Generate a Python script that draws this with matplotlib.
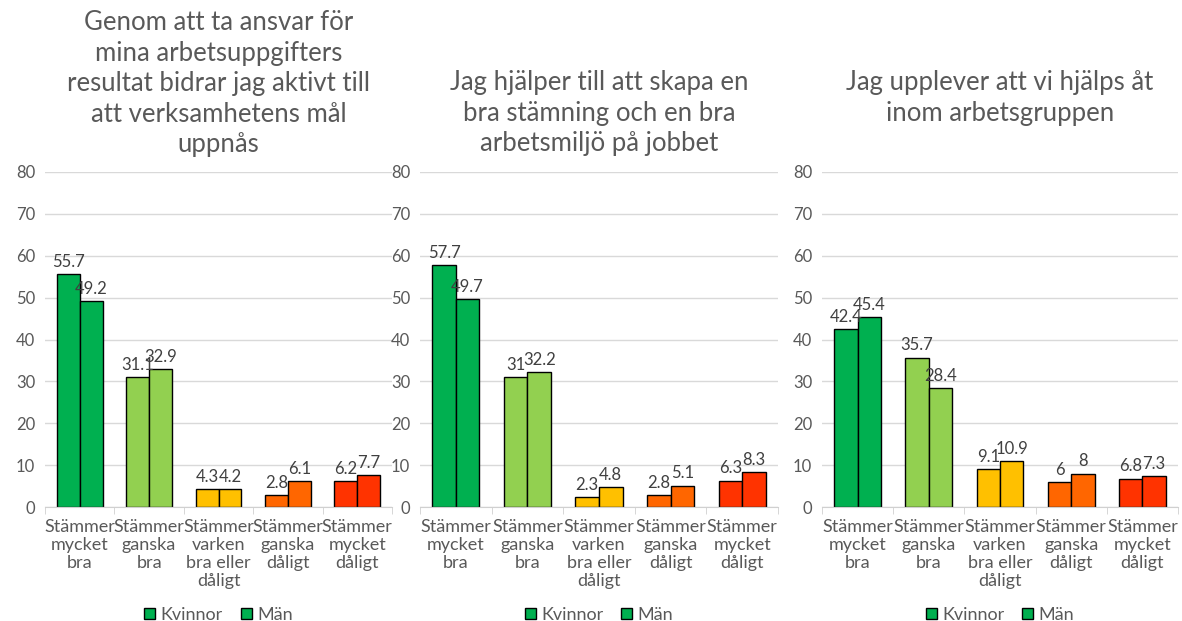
import matplotlib
matplotlib.use("Agg")
import matplotlib.pyplot as plt
from matplotlib.patches import Patch
import numpy as np

plt.rcParams['font.family'] = ['Lato', 'DejaVu Sans']

categories = ["Stämmer\nmycket\nbra", "Stämmer\nganska\nbra", "Stämmer\nvarken\nbra eller\ndåligt",
              "Stämmer\nganska\ndåligt", "Stämmer\nmycket\ndåligt"]
series_names = ["Kvinnor", "Män"]

titles = ["Genom att ta ansvar för\nmina arbetsuppgifters\nresultat bidrar jag aktivt till\natt verksamhetens mål\nuppnås",
          "Jag hjälper till att skapa en\nbra stämning och en bra\narbetsmiljö på jobbet",
          "Jag upplever att vi hjälps åt\ninom arbetsgruppen"]

kvinnor_1 = [55.7, 31.1, 4.3, 2.8, 6.2]
man_1 = [49.2, 32.9, 4.2, 6.1, 7.7]
kvinnor_2 = [57.7, 31, 2.3, 2.8, 6.3]
man_2 = [49.7, 32.2, 4.8, 5.1, 8.3]
kvinnor_3 = [42.4, 35.7, 9.1, 6, 6.8]
man_3 = [45.4, 28.4, 10.9, 8, 7.3]

yticks = [0, 10, 20, 30, 40, 50, 60, 70, 80]

colors = ["#00B050", "#92D050", "#FFC000", "#FF6600", "#FF3300"]
txt = "#595959"

W, H = 1182, 621
fig = plt.figure(figsize=(W / 100, H / 100), dpi=100)

# panel boxes in pixels: left, right; all share the same vertical extent
boxes = [(45, 392), (420, 778), (822, 1178)]
title_tops = [10, 70, 70]
data = [(kvinnor_1, man_1), (kvinnor_2, man_2), (kvinnor_3, man_3)]
y0, y1 = 507, 172

for (l, r), ttop, title, (k, m) in zip(boxes, title_tops, titles, data):
    ax = fig.add_axes([l / W, (H - y0) / H, (r - l) / W, (y0 - y1) / H])
    x = np.arange(len(categories))
    w = 0.33
    bk = ax.bar(x - w / 2, k, w, color=colors, edgecolor="black", linewidth=1, zorder=3)
    bm = ax.bar(x + w / 2, m, w, color=colors, edgecolor="black", linewidth=1, zorder=3)
    for bars, vals in ((bk, k), (bm, m)):
        for b, v in zip(bars, vals):
            ax.annotate(f"{v:g}", (b.get_x() + b.get_width() / 2, v), xytext=(0, 3),
                        textcoords="offset points", ha="center", va="bottom",
                        fontsize=12, color="#404040", zorder=4)
    ax.set_xlim(-0.5, len(categories) - 0.5)
    ax.set_ylim(0, 80)
    ax.set_yticks(yticks)
    ax.tick_params(axis="y", length=0, labelsize=12, labelcolor=txt, pad=7)
    ax.set_xticks(x)
    ax.set_xticklabels(categories, fontsize=13, color=txt, linespacing=1.15)
    ax.tick_params(axis="x", length=0, pad=9)
    ax.set_xticks(np.arange(-0.5, len(categories)), minor=True)
    ax.tick_params(axis="x", which="minor", length=5, color="#d0d0d0")
    ax.grid(axis="y", color="#d9d9d9", linewidth=1, zorder=0)
    for s in ("top", "right", "left"):
        ax.spines[s].set_visible(False)
    ax.spines["bottom"].set_color("#d0d0d0")
    ax.spines["bottom"].set_zorder(5)

    handles = [Patch(facecolor=colors[0], edgecolor="black", label=n) for n in series_names]
    ax.legend(handles=handles, loc="center", bbox_to_anchor=(0.5, -0.322), ncol=2,
              frameon=False, fontsize=13, labelcolor=txt, handlelength=0.6,
              handleheight=0.6, handletextpad=0.3, columnspacing=1.0)

    fig.text((l + r) / 2 / W, 1 - ttop / H, title, ha="center", va="top",
             fontsize=18.5, color=txt, linespacing=1.28)

fig.savefig("out.png", dpi=100)
